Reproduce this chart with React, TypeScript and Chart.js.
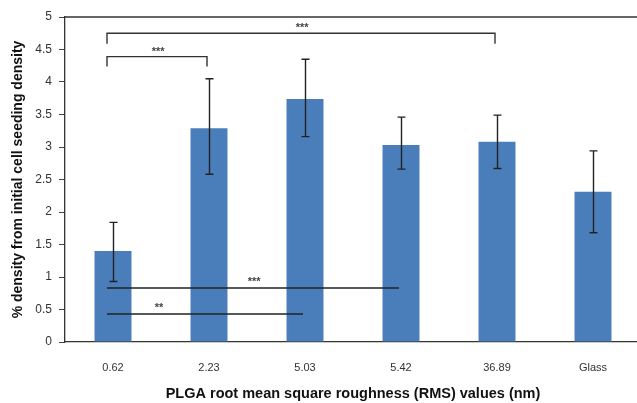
import React, { useEffect, useRef } from "react";
import { Chart, registerables } from "chart.js";

Chart.register(...registerables);

const categories = ["0.62", "2.23", "5.03", "5.42", "36.89", "Glass"];
const densityValues = [1.4, 3.29, 3.74, 3.03, 3.08, 2.31];
const errHigh = [1.84, 4.05, 4.35, 3.46, 3.49, 2.94];
const errLow = [0.93, 2.58, 3.16, 2.66, 2.67, 1.68];
const yTickStep = 0.5;
const yMin = 0;
const yMax = 5;

// significance brackets (category indices, level in data units)
const bracketPairs = [
  [0, 1],
  [0, 4],
];
const bracketLevels = [4.39, 4.75];
const bracketDrops = [0.15, 0.16];
const bracketMarks = ["***", "***"];
const bracketMarkAt = [0.47, 1.97];

// significance horizontal lines
const linePairs = [
  [0, 3],
  [0, 2],
];
const lineLevels = [0.83, 0.43];
const lineMarks = ["***", "**"];
const lineMarkAt = [1.47, 0.48];

const xTitle = "PLGA root mean square roughness (RMS) values (nm)";
const yTitle = "% density from initial cell seeding density";

const FONT = "'Liberation Sans', Arial, sans-serif";

const overlay = {
  id: "overlay",
  afterDatasetsDraw(chart: any) {
    const { ctx, chartArea, scales } = chart;
    const x = scales.x;
    const y = scales.y;
    ctx.save();
    // top border of plot area
    ctx.strokeStyle = "#333";
    ctx.lineWidth = 1.3;
    ctx.beginPath();
    ctx.moveTo(chartArea.left, chartArea.top);
    ctx.lineTo(chartArea.right + 10, chartArea.top);
    ctx.stroke();

    // error bars
    ctx.strokeStyle = "#222";
    ctx.lineWidth = 1.4;
    densityValues.forEach((_, i) => {
      const cx = Math.round(x.getPixelForValue(i)) + 0.5;
      const yt = y.getPixelForValue(errHigh[i]);
      const yb = y.getPixelForValue(errLow[i]);
      ctx.beginPath();
      ctx.moveTo(cx, yt);
      ctx.lineTo(cx, yb);
      ctx.moveTo(cx - 4, yt);
      ctx.lineTo(cx + 4, yt);
      ctx.moveTo(cx - 4, yb);
      ctx.lineTo(cx + 4, yb);
      ctx.stroke();
    });

    ctx.font = `bold 11px ${FONT}`;
    ctx.fillStyle = "#444";
    ctx.textAlign = "center";
    ctx.textBaseline = "middle";

    // brackets
    ctx.strokeStyle = "#333";
    ctx.lineWidth = 1.4;
    bracketPairs.forEach((pair, k) => {
      const x1 = x.getPixelForValue(pair[0]) - 6;
      const x2 = x.getPixelForValue(pair[1]) - 2;
      const yl = y.getPixelForValue(bracketLevels[k]);
      const yd = y.getPixelForValue(bracketLevels[k] - bracketDrops[k]);
      ctx.beginPath();
      ctx.moveTo(x1, yd);
      ctx.lineTo(x1, yl);
      ctx.lineTo(x2, yl);
      ctx.lineTo(x2, yd);
      ctx.stroke();
      ctx.fillText(bracketMarks[k], x.getPixelForValue(bracketMarkAt[k]), yl - 5);
    });

    // horizontal lines
    ctx.strokeStyle = "#222";
    linePairs.forEach((pair, k) => {
      const x1 = x.getPixelForValue(pair[0]) - 6;
      const x2 = x.getPixelForValue(pair[1]) - 2;
      const yl = y.getPixelForValue(lineLevels[k]);
      ctx.beginPath();
      ctx.moveTo(x1, yl);
      ctx.lineTo(x2, yl);
      ctx.stroke();
      ctx.fillText(lineMarks[k], x.getPixelForValue(lineMarkAt[k]), yl - 6);
    });
    ctx.restore();
  },
};

export default function App() {
  const ref = useRef<HTMLCanvasElement>(null);
  useEffect(() => {
    if (!ref.current) return;
    const chart = new Chart(ref.current, {
      type: "bar",
      data: {
        labels: categories,
        datasets: [
          {
            data: densityValues,
            backgroundColor: "#4a7ebb",
            barPercentage: 0.385,
            categoryPercentage: 1,
          },
        ],
      },
      options: {
        responsive: false,
        animation: false,
        layout: { padding: { top: 17, right: 4, left: 0, bottom: 0 } },
        plugins: { legend: { display: false }, tooltip: { enabled: false } },
        scales: {
          x: {
            afterFit: (s: any) => {
              s.height = 61;
            },
            grid: { display: false, drawTicks: false },
            border: { display: true, color: "#333", width: 1.3 },
            ticks: { color: "#333", font: { family: FONT, size: 11 }, padding: 19 },
            title: {
              display: true,
              text: xTitle,
              color: "#111",
              font: { family: FONT, size: 14.5, weight: "bold" },
              padding: { top: 0, bottom: 0 },
            },
          },
          y: {
            min: yMin,
            max: yMax,
            afterFit: (s: any) => {
              s.width = 65;
            },
            grid: { drawOnChartArea: false, drawTicks: true, tickLength: 6, color: "#444" },
            border: { display: true, color: "#333", width: 1.3 },
            ticks: {
              stepSize: yTickStep,
              color: "#333",
              font: { family: FONT, size: 12 },
              padding: 7,
              callback: (v: any) => String(Number(v)),
            },
            title: {
              display: true,
              text: yTitle,
              color: "#111",
              font: { family: FONT, size: 14, weight: "bold" },
              padding: { top: 10, bottom: 0 },
            },
          },
        },
      },
      plugins: [overlay],
    });
    return () => chart.destroy();
  }, []);
  return (
    <div
      style={{
        position: "fixed",
        left: 0,
        top: 0,
        width: 637,
        height: 403,
        overflow: "hidden",
        background: "#fff",
      }}
    >
      <canvas ref={ref} width={645} height={403} style={{ width: 645, height: 403, display: "block" }} />
    </div>
  );
}
